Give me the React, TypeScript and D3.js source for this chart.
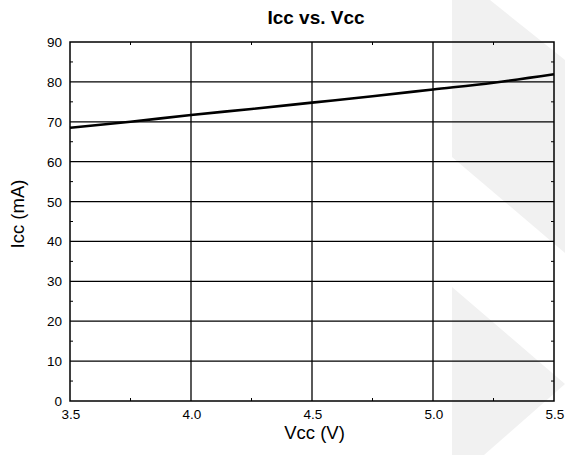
import * as d3 from "d3";
import React, { useEffect, useRef } from "react";

// Icc vs. Vcc data
const vccValues = [3.5, 3.75, 4.0, 4.25, 4.5, 4.75, 5.0, 5.25, 5.5];
const iccValues = [68.5, 70.0, 71.7, 73.2, 74.8, 76.4, 78.1, 79.8, 81.9];

const xTicks = [3.5, 4.0, 4.5, 5.0, 5.5];
const xMinorTicks = [3.75, 4.25, 4.75, 5.25];
const yTicks = [0, 10, 20, 30, 40, 50, 60, 70, 80, 90];
const yMinorTicks = [5, 15, 25, 35, 45, 55, 65, 75, 85];

export default function App() {
  const chartRef = useRef<SVGSVGElement | null>(null);

  useEffect(() => {
    if (!chartRef.current) return;
    const width = 565;
    const height = 455;
    const margin = { top: 42, right: 11, bottom: 54, left: 70 };
    const innerWidth = width - margin.left - margin.right;
    const innerHeight = height - margin.top - margin.bottom;
    const font = "'Liberation Sans', Arial, sans-serif";

    const svg = d3.select(chartRef.current);
    svg.selectAll("*").remove();

    // watermark shapes in the background
    const wm = svg.append("g").attr("fill", "#f1f1f1");
    wm.append("path").attr("d", "M452,0 L490,0 L565,60 L565,253 L452,157 Z");
    wm.append("path").attr("d", "M452,287 L565,384 L484,455 L452,455 Z");

    const x = d3.scaleLinear().domain([3.5, 5.5]).range([0, innerWidth]);
    const y = d3.scaleLinear().domain([0, 90]).range([innerHeight, 0]);

    const g = svg.append("g").attr("transform", `translate(${margin.left},${margin.top})`);

    // grid
    g.selectAll(".hgrid")
      .data(yTicks.slice(1, -1))
      .join("line")
      .attr("x1", 0)
      .attr("x2", innerWidth)
      .attr("y1", d => y(d))
      .attr("y2", d => y(d))
      .attr("stroke", "#000")
      .attr("stroke-width", 1.3);

    g.selectAll(".vgrid")
      .data(xTicks.slice(1, -1))
      .join("line")
      .attr("x1", d => x(d))
      .attr("x2", d => x(d))
      .attr("y1", 0)
      .attr("y2", innerHeight)
      .attr("stroke", "#000")
      .attr("stroke-width", 1.3);

    // minor ticks on all four sides, pointing inward
    const minor = g.append("g").attr("stroke", "#000").attr("stroke-width", 1);
    xMinorTicks.forEach(v => {
      minor.append("line").attr("x1", x(v)).attr("x2", x(v)).attr("y1", innerHeight).attr("y2", innerHeight - 3);
      minor.append("line").attr("x1", x(v)).attr("x2", x(v)).attr("y1", 0).attr("y2", 3);
    });
    yMinorTicks.forEach(v => {
      minor.append("line").attr("x1", 0).attr("x2", 3).attr("y1", y(v)).attr("y2", y(v));
      minor.append("line").attr("x1", innerWidth).attr("x2", innerWidth - 3).attr("y1", y(v)).attr("y2", y(v));
    });

    // frame
    g.append("rect")
      .attr("width", innerWidth)
      .attr("height", innerHeight)
      .attr("fill", "none")
      .attr("stroke", "#000")
      .attr("stroke-width", 1.5);

    // data line
    const line = d3.line<number>()
      .x((_, i) => x(vccValues[i]))
      .y(d => y(d))
      .curve(d3.curveMonotoneX);

    g.append("path")
      .datum(iccValues)
      .attr("d", line)
      .attr("fill", "none")
      .attr("stroke", "#000")
      .attr("stroke-width", 2.6);

    // tick labels
    g.selectAll(".xlabel")
      .data(xTicks)
      .join("text")
      .attr("x", d => x(d) + 1)
      .attr("y", innerHeight + 18)
      .attr("text-anchor", "middle")
      .style("font-family", font)
      .style("font-size", "13.5px")
      .text(d => d.toFixed(1));

    g.selectAll(".ylabel")
      .data(yTicks)
      .join("text")
      .attr("x", -8)
      .attr("y", d => y(d) + 5)
      .attr("text-anchor", "end")
      .style("font-family", font)
      .style("font-size", "13.5px")
      .text(d => d);

    // titles
    svg.append("text")
      .attr("x", 316)
      .attr("y", 23.5)
      .attr("text-anchor", "middle")
      .style("font-family", font)
      .style("font-size", "19px")
      .style("font-weight", "bold")
      .text("Icc vs. Vcc");

    svg.append("text")
      .attr("x", 314.5)
      .attr("y", 438.5)
      .attr("text-anchor", "middle")
      .style("font-family", font)
      .style("font-size", "18.5px")
      .text("Vcc (V)");

    svg.append("text")
      .attr("transform", `translate(24, 214) rotate(-90)`)
      .attr("text-anchor", "middle")
      .style("font-family", font)
      .style("font-size", "18.5px")
      .text("Icc (mA)");
  }, []);

  return (
    <svg
      ref={chartRef}
      width={565}
      height={455}
      style={{ position: "absolute", left: 0, top: 0, background: "#fff" }}
    ></svg>
  );
}
